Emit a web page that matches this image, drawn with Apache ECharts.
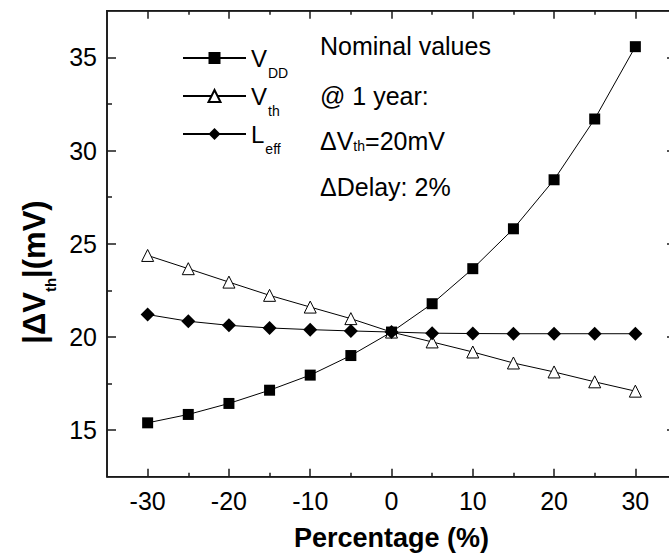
<!DOCTYPE html>
<html>
<head>
<meta charset="utf-8">
<script src="https://cdn.jsdelivr.net/npm/echarts@6/dist/echarts.min.js"></script>
<style>
  html, body { margin: 0; padding: 0; background: #fff; overflow: hidden; }
  /* 右侧边框在原图中被裁掉，所以画布比窗口略宽 */
  #chart { width: 684px; height: 559px; }
</style>
</head>
<body>
<div id="chart"></div>
<script>
// 数据
const percentages = [-30, -25, -20, -15, -10, -5, 0, 5, 10, 15, 20, 25, 30]
const vddShift = [15.39, 15.84, 16.43, 17.14, 17.95, 19.0, 20.26, 21.78, 23.66, 25.8, 28.43, 31.69, 35.57]
const vthShift = [24.37, 23.66, 22.94, 22.23, 21.6, 20.98, 20.26, 19.73, 19.19, 18.6, 18.12, 17.59, 17.09]
const leffShift = [21.2, 20.84, 20.62, 20.48, 20.39, 20.32, 20.26, 20.2, 20.18, 20.17, 20.17, 20.17, 20.17]

// 刻度
const xMajorTicks = [-30, -20, -10, 0, 10, 20, 30]
const xMinorTicks = [-25, -15, -5, 5, 15, 25]
const yMajorTicks = [15, 20, 25, 30, 35]
const yMinorTicks = [17.5, 22.5, 27.5, 32.5]

// 图例和注释
const legendNames = ['VDD', 'Vth', 'Leff']
const legendLabels = { VDD: '{m|V}{s|DD}', Vth: '{m|V}{s|th}', Leff: '{m|L}{s|eff}' }
const notes = ['Nominal values', '@ 1 year:', '{m|ΔV}{s|th}{m|=20mV}', 'ΔDelay: 2%']
const noteY = [46, 96, 141, 187]

const FONT = '"Liberation Sans", Arial, Helvetica, sans-serif'
const X_RANGE = [-35, 35]
const Y_RANGE = [12.5, 37.5]

const frameLine = () => ({ show: true, onZero: false, lineStyle: { color: '#1a1a1a', width: 1.6 } })

// 坐标轴工厂
const makeAxis = (range, position, ticks, len, extra) => Object.assign({
  type: 'value',
  position: position,
  min: range[0],
  max: range[1],
  z: 10,
  axisLine: { show: false, onZero: false },
  axisTick: { show: true, inside: true, length: len, customValues: ticks, lineStyle: { color: '#1a1a1a', width: 1.5 } },
  axisLabel: { show: false },
  splitLine: { show: false }
}, extra || {})

const makeSeries = (name, data, symbol, size, itemStyle) => ({
  name: name,
  type: 'line',
  data: percentages.map((p, i) => [p, data[i]]),
  symbol: symbol,
  symbolSize: size,
  lineStyle: { color: '#000', width: 1 },
  itemStyle: itemStyle
})

const chart = echarts.init(document.getElementById('chart'), null, { renderer: 'svg' })

const option = {
  animation: false,
  grid: {
    left: 107, top: 10.7, width: 569, height: 466,
    show: true, borderColor: '#1a1a1a', borderWidth: 1.6
  },
  legend: {
    data: legendNames,
    orient: 'vertical',
    left: 182,
    top: 46,
    padding: 0,
    itemWidth: 63,
    itemHeight: 15,
    itemGap: 4,
    selectedMode: false,
    formatter: name => legendLabels[name],
    textStyle: {
      color: '#000',
      fontFamily: FONT,
      rich: {
        m: { fontSize: 24, fontFamily: FONT, color: '#000' },
        s: { fontSize: 14, fontFamily: FONT, color: '#000', padding: [30, 0, 0, 1] }
      }
    }
  },
  xAxis: [
    makeAxis(X_RANGE, 'bottom', xMajorTicks, 8, {
      axisLine: frameLine(),
      axisLabel: {
        show: true, customValues: xMajorTicks, margin: 12,
        color: '#000', fontSize: 25, fontFamily: FONT
      },
      name: 'Percentage (%)',
      nameLocation: 'middle',
      nameGap: 48,
      nameTextStyle: { color: '#000', fontSize: 27, fontWeight: 'bold', fontFamily: FONT }
    }),
    makeAxis(X_RANGE, 'bottom', xMinorTicks, 4),
    makeAxis(X_RANGE, 'top', xMajorTicks, 8, { axisLine: frameLine() }),
    makeAxis(X_RANGE, 'top', xMinorTicks, 4)
  ],
  yAxis: [
    makeAxis(Y_RANGE, 'left', yMajorTicks, 9, {
      axisLine: frameLine(),
      axisLabel: {
        show: true, customValues: yMajorTicks, margin: 10,
        color: '#000', fontSize: 25, fontFamily: FONT
      }
    }),
    makeAxis(Y_RANGE, 'left', yMinorTicks, 5),
    makeAxis(Y_RANGE, 'right', yMajorTicks, 9, { axisLine: frameLine() }),
    makeAxis(Y_RANGE, 'right', yMinorTicks, 5)
  ],
  graphic: [
    {
      type: 'text',
      x: 34,
      y: 272,
      rotation: Math.PI / 2,
      style: {
        text: '{m||ΔV}{s|th}{m||(mV)}',
        align: 'center',
        verticalAlign: 'middle',
        rich: {
          m: { fontSize: 31, fontWeight: 'bold', fontFamily: FONT, fill: '#000' },
          s: { fontSize: 15, fontWeight: 'bold', fontFamily: FONT, fill: '#000', padding: [32, 0, 0, 0] }
        }
      }
    }
  ].concat(notes.map((t, i) => ({
    type: 'text',
    x: 320,
    y: noteY[i],
    style: {
      text: t.indexOf('{') === 0 ? t : '{m|' + t + '}',
      align: 'left',
      verticalAlign: 'middle',
      rich: {
        m: { fontSize: 25, fontFamily: FONT, fill: '#000' },
        s: { fontSize: 14, fontFamily: FONT, fill: '#000', padding: [10, 0, 0, 0] }
      }
    }
  }))),
  series: [
    makeSeries('VDD', vddShift, 'rect', 11, { color: '#000' }),
    makeSeries('Vth', vthShift, 'triangle', 12, { color: '#fff', borderColor: '#000', borderWidth: 1 }),
    makeSeries('Leff', leffShift, 'diamond', 14, { color: '#000' })
  ]
}

chart.setOption(option)
</script>
</body>
</html>
